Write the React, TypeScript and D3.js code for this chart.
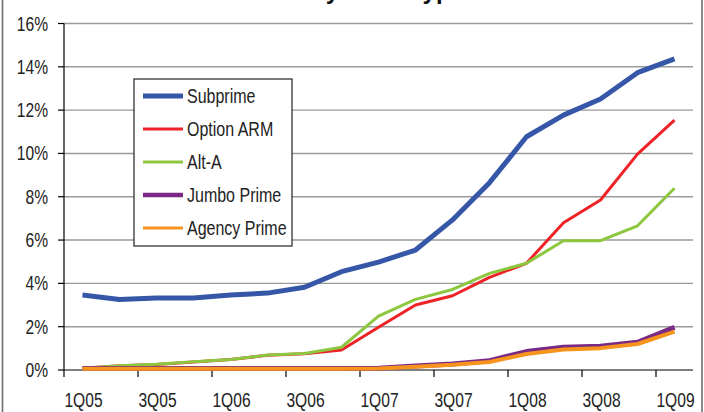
import React from 'react';
import * as d3 from 'd3';

// Quarterly rates (%) by loan type
const quarters = [
  '1Q05', '2Q05', '3Q05', '4Q05',
  '1Q06', '2Q06', '3Q06', '4Q06',
  '1Q07', '2Q07', '3Q07', '4Q07',
  '1Q08', '2Q08', '3Q08', '4Q08',
  '1Q09',
];

const subprime = [3.46, 3.26, 3.32, 3.33, 3.46, 3.55, 3.82, 4.54, 4.98, 5.54, 6.93, 8.65, 10.77, 11.77, 12.51, 13.73, 14.37];
const optionArm = [0.08, 0.2, 0.25, 0.37, 0.48, 0.68, 0.75, 0.92, 1.97, 3.0, 3.43, 4.28, 4.93, 6.8, 7.85, 9.97, 11.54];
const altA = [0.08, 0.2, 0.26, 0.38, 0.49, 0.69, 0.76, 1.05, 2.49, 3.26, 3.72, 4.46, 4.93, 5.97, 5.97, 6.66, 8.39];
const jumboPrime = [0.07, 0.07, 0.07, 0.07, 0.07, 0.07, 0.07, 0.07, 0.08, 0.18, 0.28, 0.43, 0.85, 1.05, 1.1, 1.28, 1.97];
const agencyPrime = [0.06, 0.06, 0.06, 0.06, 0.06, 0.06, 0.06, 0.06, 0.07, 0.15, 0.24, 0.37, 0.74, 0.95, 1.01, 1.2, 1.77];

const yTicks = [0, 2, 4, 6, 8, 10, 12, 14, 16];

const series = [
  { name: 'Subprime', values: subprime, color: '#3657a7', width: 5, legendWidth: 5 },
  { name: 'Option ARM', values: optionArm, color: '#ee2328', width: 3, legendWidth: 3 },
  { name: 'Alt-A', values: altA, color: '#8dc63f', width: 3, legendWidth: 3 },
  { name: 'Jumbo Prime', values: jumboPrime, color: '#7a2a84', width: 5, legendWidth: 4.5 },
  { name: 'Agency Prime', values: agencyPrime, color: '#f7941d', width: 4, legendWidth: 3 },
];

const W = 704;
const H = 412;
const FONT = "'Liberation Sans', Arial, sans-serif";
const NARROW = 0.8;

// Condensed label: regular sans squeezed horizontally around its anchor point
function NarrowText({
  x, y, anchor = 'start', size = 19.5, children,
}: { x: number; y: number; anchor?: 'start' | 'middle' | 'end'; size?: number; children: React.ReactNode }) {
  return (
    <text
      transform={`translate(${x},${y}) scale(${NARROW},1)`}
      dy="0.36em"
      textAnchor={anchor}
      fontSize={size}
      fontFamily={FONT}
      fill="#222"
    >
      {children}
    </text>
  );
}

export default function App() {
  const x = d3.scaleBand<string>().domain(quarters).range([64, 693]).paddingInner(0).paddingOuter(0);
  const y = d3.scaleLinear().domain([0, 16]).range([370, 23.5]);
  const cx = (q: string) => (x(q) as number) + x.bandwidth() / 2;

  const line = d3
    .line<number>()
    .x((_, i) => cx(quarters[i]))
    .y((v) => y(v));

  const legendX = 134;
  const legendY = 79;
  const rowGap = 33;

  return (
    <svg width={W} height={H} style={{ position: 'absolute', left: 0, top: 0, background: '#fff' }}>
      <rect x={0} y={0} width={W} height={H} fill="#fff" />
      {/* outer frame */}
      <rect x={2.5} y={-10} width={699.5} height={H + 20} fill="none" stroke="#6e6e6e" strokeWidth={1.6} />

      {/* title */}
      <text x={311} y={-1.5} fontFamily={FONT} fontWeight="bold" fontSize={24} fill="#111">
        by Loan Type
      </text>

      {/* gridlines */}
      {yTicks.filter((t) => t > 0).map((t) => (
        <line key={`g${t}`} x1={64} x2={693} y1={y(t)} y2={y(t)} stroke="#9a9a9a" strokeWidth={1.4} />
      ))}

      {/* y axis */}
      <line x1={64} x2={64} y1={y(16)} y2={y(0)} stroke="#000" strokeWidth={1.2} />
      {yTicks.map((t) => (
        <g key={`y${t}`}>
          <line x1={58} x2={64} y1={y(t)} y2={y(t)} stroke="#000" strokeWidth={1.2} />
          <NarrowText x={48} y={y(t)} anchor="end" size={19.5}>{`${t}%`}</NarrowText>
        </g>
      ))}

      {/* x axis */}
      <line x1={64} x2={693} y1={y(0)} y2={y(0)} stroke="#000" strokeWidth={1.2} />
      {quarters.map((q, i) =>
        i % 2 === 0 ? (
          <g key={q}>
            <line x1={x(q) as number} x2={x(q) as number} y1={y(0)} y2={y(0) + 7} stroke="#000" strokeWidth={1.2} />
            <NarrowText x={cx(q) + 1} y={400} anchor="middle" size={19.5}>{q}</NarrowText>
          </g>
        ) : null
      )}

      {/* series lines */}
      {series.map((s) => (
        <path
          key={s.name}
          d={line(s.values) as string}
          fill="none"
          stroke={s.color}
          strokeWidth={s.width}
          strokeLinejoin="round"
        />
      ))}

      {/* legend */}
      <rect x={legendX} y={legendY} width={158} height={167} fill="#fff" stroke="#222" strokeWidth={1.2} />
      {series.map((s, i) => {
        const ry = 96 + i * rowGap;
        return (
          <g key={`l${s.name}`}>
            <line x1={143} x2={183} y1={ry} y2={ry} stroke={s.color} strokeWidth={s.legendWidth} />
            <NarrowText x={187} y={ry} size={20}>{s.name}</NarrowText>
          </g>
        );
      })}
    </svg>
  );
}
